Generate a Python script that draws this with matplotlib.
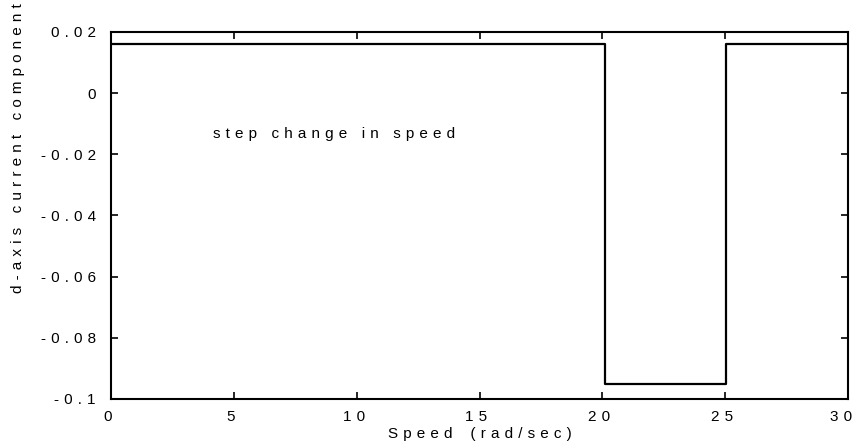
import matplotlib
matplotlib.use("Agg")
import matplotlib.pyplot as plt
from matplotlib.transforms import ScaledTranslation

# d-axis current response to a step change in speed
speed = [0.0, 20.1, 25.05, 30.0]
id_current = [0.016, -0.095, 0.016, 0.016]

x_ticks = [0, 5, 10, 15, 20, 25, 30]
x_tick_labels = ["0", "5", "10", "15", "20", "25", "30"]
y_ticks = [0.02, 0.0, -0.02, -0.04, -0.06, -0.08, -0.1]
y_tick_labels = ["0.02", "0", "-0.02", "-0.04", "-0.06", "-0.08", "-0.1"]

FONT = ["Liberation Sans", "DejaVu Sans"]
plt.rcParams["font.family"] = FONT
FS = 11


def spaced(s, gap="\u2004", word_gap=None):
    # wide letter spacing, as in the plotted labels
    out = gap.join(s)
    if word_gap is not None:
        out = out.replace(gap + " " + gap, word_gap)
    return out


fig = plt.figure(figsize=(8.56, 4.48), dpi=100)
ax = fig.add_axes([0.1297, 0.1094, 0.861, 0.8192])

ax.plot(speed, id_current, drawstyle="steps-post", color="black", lw=1.6)

ax.set_xlim(0, 30)
ax.set_ylim(-0.1, 0.02)
ax.set_xticks(x_ticks)
ax.set_xticklabels([spaced(t) for t in x_tick_labels])
ax.set_yticks(y_ticks)
ax.set_yticklabels([spaced(t) for t in y_tick_labels])

ax.tick_params(direction="in", top=True, right=True, length=5, width=1.2,
               labelsize=FS, colors="black")
ax.tick_params(axis="y", pad=11)
ax.tick_params(axis="x", pad=8)
for sp in ax.spines.values():
    sp.set_linewidth(1.5)

# x tick labels sit slightly left of their ticks; the last one stays inside the frame
xlabels = ax.get_xticklabels()
for lab in xlabels[:-1]:
    lab.set_transform(lab.get_transform()
                      + ScaledTranslation(-3 / 100, 0, fig.dpi_scale_trans))
xlabels[-1].set_horizontalalignment("right")
xlabels[-1].set_transform(xlabels[-1].get_transform()
                          + ScaledTranslation(4 / 100, 0, fig.dpi_scale_trans))

ax.set_xlabel(spaced("Speed (rad/sec)", word_gap="\u2004\u2002\u2004"),
              fontsize=FS, labelpad=2)
ax.set_ylabel(spaced("d-axis current component"), fontsize=FS)
ax.yaxis.set_label_coords(-0.117, 0.684)

ax.text(4.15, -0.0135, spaced("step change in speed"), fontsize=FS,
        ha="left", va="center")

fig.savefig("out.png", dpi=100)
